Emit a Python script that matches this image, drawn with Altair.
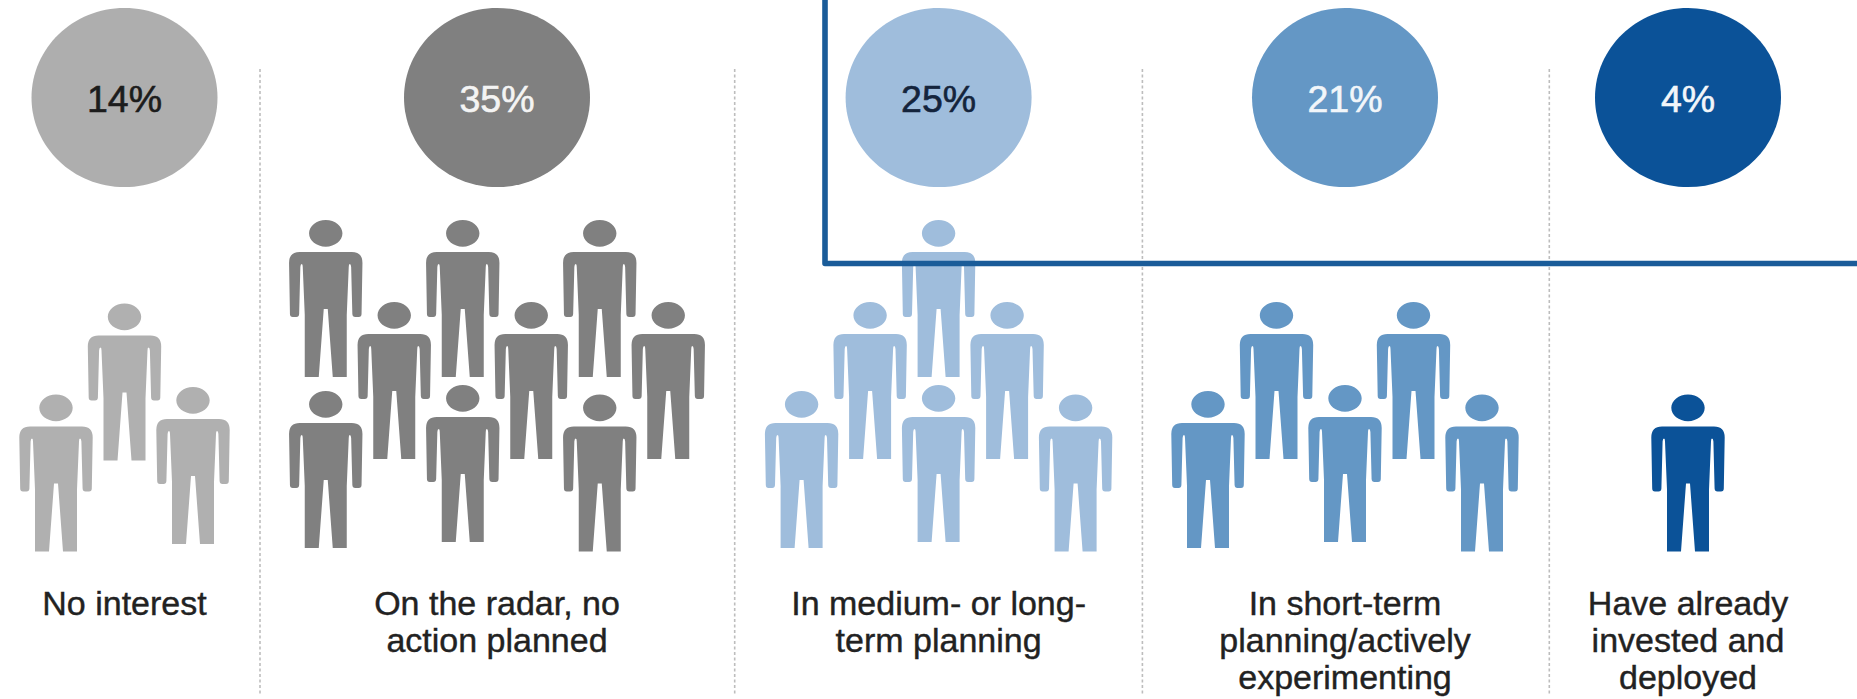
import altair as alt
import pandas as pd

WIDTH, HEIGHT = 1857, 699

# One entry per stage of adoption
stages = ["No interest", "On the radar", "Medium/long-term", "Short-term", "Deployed"]
shares = [14, 35, 25, 21, 4]
captions = [
    "No interest",
    "On the radar, no\naction planned",
    "In medium- or long-\nterm planning",
    "In short-term\nplanning/actively\nexperimenting",
    "Have already\ninvested and\ndeployed",
]
fills = ["#aeaeae", "#808080", "#9fbddc", "#6497c5", "#0b5298"]
figure_fills = ["#b0b0b0", "#808080", "#9fbddc", "#6497c5", "#0b5298"]
share_inks = ["#1c1c1c", "#f4f4f4", "#14243c", "#f2f6fa", "#f2f6fa"]

column_x = [124.5, 497, 938.6, 1345, 1688]
divider_x = [260, 734.7, 1142.4, 1549.3]
divider_y = [69, 695]
frame_x = [825, 825, 1857]
frame_y = [-3, 263.5, 263.5]

# Each figure: horizontal step from its column centre, and where its feet stand
figure_steps = [
    [-1, 0, 1],
    [-2.5, -2.5, -1.5, -0.5, -0.5, 0.5, 1.5, 1.5, 2.5],
    [-2, -1, 0, 0, 1, 2],
    [-2, -1, 0, 1, 2],
    [0],
]
figure_feet = [
    [551.5, 460.5, 544],
    [377, 548, 459, 377, 542, 459, 377, 551.5, 459],
    [548, 459, 377, 542, 459, 551.5],
    [548, 459, 542, 459, 551.5],
    [551.5],
]
STEP = 68.5


def oval(cx, cy, rx, ry):
    kx, ky = rx * 0.5523, ry * 0.5523
    return (
        f"M{cx - rx} {cy}"
        f"C{cx - rx} {cy - ky} {cx - kx} {cy - ry} {cx} {cy - ry}"
        f"C{cx + kx} {cy - ry} {cx + rx} {cy - ky} {cx + rx} {cy}"
        f"C{cx + rx} {cy + ky} {cx + kx} {cy + ry} {cx} {cy + ry}"
        f"C{cx - kx} {cy + ry} {cx - rx} {cy + ky} {cx - rx} {cy}Z"
    )


# Symbol paths are written in screen units; a size of 4 leaves them unscaled
UNSCALED = 4
DISC_PATH = oval(0, 0, 93, 89.6)
BODY_PATH = (
    "M-26 -125L26 -125Q36.7 -125 36.7 -114L35.8 -63Q35.8 -60 33 -60"
    "L29.5 -60Q26.7 -60 26.6 -63L25.4 -110Q25.2 -113 24 -113Q23 -113 23 -110"
    "L21 -62L21 0L7 0L2 -68L-2 -68L-7 0L-21 0L-21 -62"
    "L-23 -110Q-23 -113 -24 -113Q-25.2 -113 -25.4 -110L-26.6 -63Q-26.7 -60 -29.5 -60"
    "L-33 -60Q-35.8 -60 -35.8 -63L-36.7 -114Q-36.7 -125 -26 -125Z"
)
FIGURE_PATH = oval(0, -143.7, 16.7, 13.4) + BODY_PATH

stage_table = pd.DataFrame(
    {
        "stage": stages,
        "share": shares,
        "share_text": [f"{s}%" for s in shares],
        "caption": captions,
        "fill": fills,
        "ink": share_inks,
        "x": column_x,
        "disc_y": [97.5] * len(stages),
        "share_y": [112] * len(stages),
        "caption_y": [615] * len(stages),
    }
)

figure_rows = []
for i, stage in enumerate(stages):
    for step, feet in zip(figure_steps[i], figure_feet[i]):
        figure_rows.append(
            {"stage": stage, "x": column_x[i] + step * STEP, "y": feet, "fill": figure_fills[i]}
        )
figure_table = pd.DataFrame(figure_rows)

divider_table = pd.DataFrame({"x": divider_x, "y": divider_y[0], "y2": divider_y[1]})
frame_table = pd.DataFrame({"x": frame_x, "y": frame_y, "order": range(len(frame_x))})

x_scale = alt.Scale(domain=[0, WIDTH], range=[0, WIDTH], nice=False, zero=False)
y_scale = alt.Scale(domain=[0, HEIGHT], range=[0, HEIGHT], nice=False, zero=False)
x_enc = alt.X("x:Q", scale=x_scale, axis=None)
y_enc = alt.Y("y:Q", scale=y_scale, axis=None)

dividers = (
    alt.Chart(divider_table)
    .mark_rule(color="#bdbdbd", strokeWidth=1.6, strokeDash=[3, 2.5])
    .encode(x=x_enc, y=y_enc, y2="y2:Q")
)

discs = (
    alt.Chart(stage_table)
    .mark_point(shape=DISC_PATH, size=UNSCALED, filled=True, opacity=1, strokeWidth=0)
    .encode(x=x_enc, y=alt.Y("disc_y:Q", scale=y_scale, axis=None), color=alt.Color("fill:N", scale=None))
)

share_text = (
    alt.Chart(stage_table)
    .mark_text(font="Liberation Sans", fontSize=37.5, baseline="alphabetic", align="center", strokeWidth=0.6)
    .encode(
        x=x_enc,
        y=alt.Y("share_y:Q", scale=y_scale, axis=None),
        text="share_text:N",
        color=alt.Color("ink:N", scale=None),
        stroke=alt.Stroke("ink:N", scale=None),
    )
)

figures = (
    alt.Chart(figure_table)
    .mark_point(shape=FIGURE_PATH, size=UNSCALED, filled=True, opacity=1, strokeWidth=0)
    .encode(x=x_enc, y=y_enc, color=alt.Color("fill:N", scale=None))
)

caption_text = (
    alt.Chart(stage_table)
    .mark_text(
        font="Liberation Sans",
        fontSize=34,
        lineBreak="\n",
        lineHeight=37,
        baseline="alphabetic",
        align="center",
        color="#222222",
        stroke="#222222",
        strokeWidth=0.4,
    )
    .encode(x=x_enc, y=alt.Y("caption_y:Q", scale=y_scale, axis=None), text="caption:N")
)

frame = (
    alt.Chart(frame_table)
    .mark_line(color="#1a5c99", strokeWidth=5.6, strokeJoin="round", clip=False)
    .encode(x=x_enc, y=y_enc, order="order:Q")
)

chart = (
    alt.layer(dividers, discs, share_text, figures, caption_text, frame)
    .properties(
        width=WIDTH,
        height=HEIGHT,
        padding=0,
        autosize=alt.AutoSizeParams(type="none"),
        background="#ffffff",
    )
    .configure_view(stroke=None)
)

chart.save("out.html", embed_options={"renderer": "svg", "actions": False})
